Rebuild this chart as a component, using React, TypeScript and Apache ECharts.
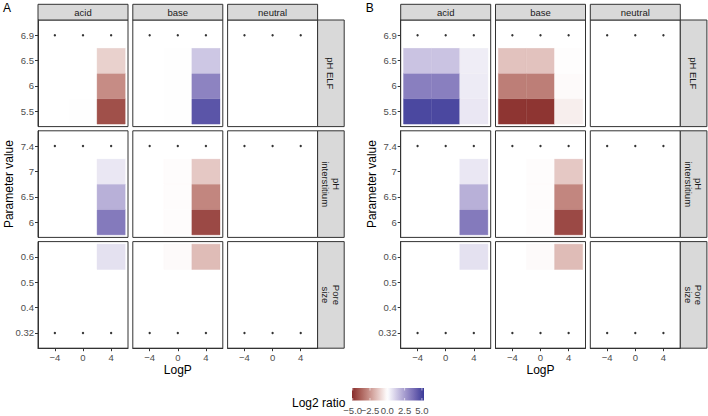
import React, { useEffect, useRef } from "react";
import * as echarts from "echarts";

// ---------- data ----------
const logP = ["\u22124", "0", "4"];
const facets = ["acid", "base", "neutral"];
const parameters = ["pH ELF", "pH\ninterstitium", "Pore\nsize"];
const pHELFLevels = ["5.5", "6", "6.5", "6.9"];
const pHInterstitiumLevels = ["6", "6.5", "7", "7.4"];
const poreSizeLevels = ["0.32", "0.4", "0.5", "0.6"];
const referenceLevels = ["6.9", "7.4", "0.32"];
const panelLabels = ["A", "B"];
const legendBreaks = [-5, -2.5, 0, 2.5, 5];
const legendBreakLabels = ["\u22125.0", "\u22122.5", "0.0", "2.5", "5.0"];
const legendLimits = [-5.1, 5.3];

// Log2 ratio: each facet = rows are levels (bottom → top), columns are logP (−4, 0, 4)
const zeroFacet = [
  [0, 0, 0],
  [0, 0, 0],
  [0, 0, 0],
  [0, 0, 0],
];
const ratioA_pHELF = [
  [[0, -0.03, -4.25], [0, 0, -2.75], [0, 0, -1.1], [0, 0, 0]],
  [[0, 0.03, 4.5], [0, 0.03, 3.2], [0, 0.03, 1.4], [0, 0, 0]],
  zeroFacet,
];
const ratioA_pHInterstitium = [
  [[0, 0, 3.45], [0, 0, 2.0], [0, 0, 0.6], [0, 0, 0]],
  [[0, -0.06, -4.4], [0, -0.06, -2.9], [0, -0.06, -1.3], [0, 0, 0]],
  zeroFacet,
];
const ratioA_poreSize = [
  [[0, 0, 0], [0, 0, 0], [0, 0, 0], [0, 0, 0.75]],
  [[0, 0, 0], [0, 0, 0], [0, 0, 0], [0, -0.12, -1.6]],
  zeroFacet,
];
const ratioB_pHELF = [
  [[4.9, 4.9, 0.6], [3.3, 3.3, 0.5], [1.5, 1.5, 0.45], [0, 0, 0]],
  [[-4.9, -4.9, -0.4], [-3.1, -3.1, -0.12], [-1.45, -1.45, -0.05], [0, 0, 0]],
  zeroFacet,
];
const ratioB_pHInterstitium = [
  [[0, 0, 3.45], [0, 0, 2.0], [0, 0, 0.6], [0, 0, 0]],
  [[0, -0.06, -4.4], [0, -0.06, -2.9], [0, -0.06, -1.3], [0, 0, 0]],
  zeroFacet,
];
const ratioB_poreSize = [
  [[0, 0, 0], [0, 0, 0], [0, 0, 0], [0, 0, 0.75]],
  [[0, 0, 0], [0, 0, 0], [0, 0, 0], [0, -0.12, -1.6]],
  zeroFacet,
];

// colour scale (muted red – white – muted blue, Lab-like stops)
const colorScaleMax = 5.3;
const colorStops = [
  "#832424", "#a75b54", "#c89089", "#e5c7c3", "#ffffff",
  "#d0cae5", "#a197cc", "#7167b2", "#3a3a98",
];

// ---------- layout ----------
const FONT = '"Liberation Sans", Arial, Helvetica, sans-serif';
const panelLeft = [38, 400.7];
const colStep = 94.8;
const colW = 90;
const rowTop = 20;
const rowStep = 110.8;
const rowH = 106.6;
const stripTop = 4.3;
const rightStripW = 26.6;
const lineCol = "#333333";
const stripFill = "#d9d9d9";

function hexToRgb(h: string) {
  const n = parseInt(h.slice(1), 16);
  return [(n >> 16) & 255, (n >> 8) & 255, n & 255];
}
function colorAt(v: number) {
  const t = ((v + colorScaleMax) / (2 * colorScaleMax)) * (colorStops.length - 1);
  const i = Math.max(0, Math.min(colorStops.length - 2, Math.floor(t)));
  const f = Math.max(0, Math.min(1, t - i));
  const a = hexToRgb(colorStops[i]);
  const b = hexToRgb(colorStops[i + 1]);
  const c = a.map((x, k) => Math.round(x + (b[k] - x) * f));
  return `rgb(${c[0]},${c[1]},${c[2]})`;
}

function renderTile(params: any, api: any) {
  const xi = api.value(0);
  const yi = api.value(1);
  const a = api.coord([xi - 0.5, yi + 0.5]);
  const b = api.coord([xi + 0.5, yi - 0.5]);
  const col = api.visual("color");
  return {
    type: "rect",
    shape: { x: a[0], y: a[1], width: b[0] - a[0], height: b[1] - a[1] },
    style: { fill: col, stroke: col, lineWidth: 0.4 },
  };
}

function buildOption() {
  const ratios = [
    [ratioA_pHELF, ratioA_pHInterstitium, ratioA_poreSize],
    [ratioB_pHELF, ratioB_pHInterstitium, ratioB_poreSize],
  ];
  const levels = [pHELFLevels, pHInterstitiumLevels, poreSizeLevels];
  const grid: any[] = [];
  const xAxis: any[] = [];
  const yAxis: any[] = [];
  const tiles: any[] = [];
  const dots: any[] = [];
  const graphic: any[] = [];

  panelLabels.forEach((pl, p) => {
    const pLeft = panelLeft[p];
    graphic.push({
      type: "text",
      x: pLeft - 35,
      y: 7.5,
      style: { text: pl, font: `12px ${FONT}`, fill: "#000", verticalAlign: "middle", align: "left" },
    });
    // y title
    graphic.push({
      type: "text",
      x: pLeft - 29,
      y: rowTop + (3 * rowStep - (rowStep - rowH)) / 2,
      rotation: Math.PI / 2,
      style: { text: "Parameter value", font: `12px ${FONT}`, fill: "#000", align: "center", verticalAlign: "middle" },
    });
    // x title
    graphic.push({
      type: "text",
      x: pLeft + colStep + colW / 2,
      y: 370,
      style: { text: "LogP", font: `12px ${FONT}`, fill: "#000", align: "center", verticalAlign: "middle" },
    });
    // top strips
    facets.forEach((f, c) => {
      const left = pLeft + c * colStep;
      graphic.push({
        type: "rect",
        shape: { x: left, y: stripTop, width: colW, height: rowTop - stripTop },
        style: { fill: stripFill, stroke: lineCol, lineWidth: 1 },
      });
      graphic.push({
        type: "text",
        x: left + colW / 2,
        y: (stripTop + rowTop) / 2 + 0.3,
        style: { text: f, font: `9.5px ${FONT}`, fill: "#1a1a1a", align: "center", verticalAlign: "middle" },
      });
    });
    // right strips
    parameters.forEach((name, r) => {
      const top = rowTop + r * rowStep;
      const sx = pLeft + 2 * colStep + colW;
      graphic.push({
        type: "rect",
        shape: { x: sx, y: top, width: rightStripW, height: rowH },
        style: { fill: stripFill, stroke: lineCol, lineWidth: 1 },
      });
      graphic.push({
        type: "text",
        x: sx + rightStripW / 2,
        y: top + rowH / 2,
        rotation: -Math.PI / 2,
        style: {
          text: name,
          font: `9.5px ${FONT}`,
          fill: "#1a1a1a",
          align: "center",
          verticalAlign: "middle",
          lineHeight: 10.5,
        },
      });
    });

    for (let r = 0; r < 3; r++) {
      for (let c = 0; c < 3; c++) {
        const gi = grid.length;
        const left = pLeft + c * colStep;
        const top = rowTop + r * rowStep;
        grid.push({
          left,
          top,
          width: colW,
          height: rowH,
          show: true,
          borderColor: lineCol,
          borderWidth: 1,
          backgroundColor: "#ffffff",
        });
        const lv = levels[r];
        xAxis.push({
          gridIndex: gi,
          type: "value",
          position: "bottom",
          min: -0.6,
          max: 2.6,
          axisLine: { show: r === 2, onZero: false, lineStyle: { color: lineCol, width: 1 } },
          splitLine: { show: false },
          axisTick: {
            show: r === 2,
            customValues: [0, 1, 2],
            length: 3,
            lineStyle: { color: lineCol, width: 1 },
          },
          axisLabel: {
            show: r === 2,
            customValues: [0, 1, 2],
            formatter: (v: number) => logP[Math.round(v)] ?? "",
            fontSize: 9.5,
            fontFamily: FONT,
            color: "#4d4d4d",
            margin: 4,
          },
        });
        yAxis.push({
          gridIndex: gi,
          type: "value",
          position: "left",
          min: -0.6,
          max: 3.6,
          axisLine: { show: c === 0, onZero: false, lineStyle: { color: lineCol, width: 1 } },
          splitLine: { show: false },
          axisTick: {
            show: c === 0,
            customValues: [0, 1, 2, 3],
            length: 3,
            lineStyle: { color: lineCol, width: 1 },
          },
          axisLabel: {
            show: c === 0,
            customValues: [0, 1, 2, 3],
            formatter: (v: number) => lv[Math.round(v)] ?? "",
            fontSize: 9.5,
            fontFamily: FONT,
            color: "#4d4d4d",
            margin: 4,
          },
        });
        const m = ratios[p][r][c];
        const data: number[][] = [];
        m.forEach((rowVals, li) => rowVals.forEach((v, xi) => data.push([xi, li, v])));
        tiles.push({
          type: "custom",
          xAxisIndex: gi,
          yAxisIndex: gi,
          data,
          encode: { x: 0, y: 1 },
          renderItem: renderTile,
          silent: true,
          z: 2,
        });
        const ref = lv.indexOf(referenceLevels[r]);
        dots.push({
          type: "scatter",
          xAxisIndex: gi,
          yAxisIndex: gi,
          data: logP.map((_, xi) => [xi, ref]),
          symbol: "circle",
          symbolSize: 2.4,
          itemStyle: { color: "#000" },
          silent: true,
          z: 3,
        });
      }
    }
  });

  // legend (colour bar)
  const barX = 352;
  const barW = 72;
  const barY = 388;
  const barH = 12.5;
  const [lo, hi] = legendLimits;
  const nStops = 40;
  const grad: any[] = [];
  for (let i = 0; i <= nStops; i++) {
    const v = lo + ((hi - lo) * i) / nStops;
    grad.push({ offset: i / nStops, color: colorAt(v) });
  }
  graphic.push({
    type: "text",
    x: 292,
    y: 402.5,
    style: { text: "Log2 ratio", font: `12px ${FONT}`, fill: "#000", align: "left", verticalAlign: "middle" },
  });
  graphic.push({
    type: "rect",
    shape: { x: barX, y: barY, width: barW, height: barH },
    style: { fill: new echarts.graphic.LinearGradient(0, 0, 1, 0, grad) },
  });
  legendBreaks.forEach((b, i) => {
    const x = barX + ((b - lo) / (hi - lo)) * barW;
    graphic.push({
      type: "line",
      shape: { x1: x, y1: barY, x2: x, y2: barY + 2.5 },
      style: { stroke: "#ffffff", lineWidth: 0.6 },
    });
    graphic.push({
      type: "line",
      shape: { x1: x, y1: barY + barH - 2.5, x2: x, y2: barY + barH },
      style: { stroke: "#ffffff", lineWidth: 0.6 },
    });
    graphic.push({
      type: "text",
      x,
      y: 410.5,
      style: {
        text: legendBreakLabels[i],
        font: `9.5px ${FONT}`,
        fill: "#4d4d4d",
        align: "center",
        verticalAlign: "middle",
      },
    });
  });

  return {
    animation: false,
    backgroundColor: "#ffffff",
    grid,
    xAxis,
    yAxis,
    visualMap: {
      type: "continuous",
      show: false,
      min: -colorScaleMax,
      max: colorScaleMax,
      dimension: 2,
      seriesIndex: tiles.map((_, i) => i),
      inRange: { color: colorStops },
    },
    series: [...tiles, ...dots],
    graphic,
  };
}

export default function App() {
  const ref = useRef<HTMLDivElement>(null);
  useEffect(() => {
    if (!ref.current) return;
    const chart = echarts.init(ref.current, undefined, { renderer: "svg" });
    chart.setOption(buildOption() as any);
    return () => chart.dispose();
  }, []);
  return (
    <div
      ref={ref}
      style={{ position: "absolute", left: 0, top: 0, width: 708, height: 416 }}
    />
  );
}
